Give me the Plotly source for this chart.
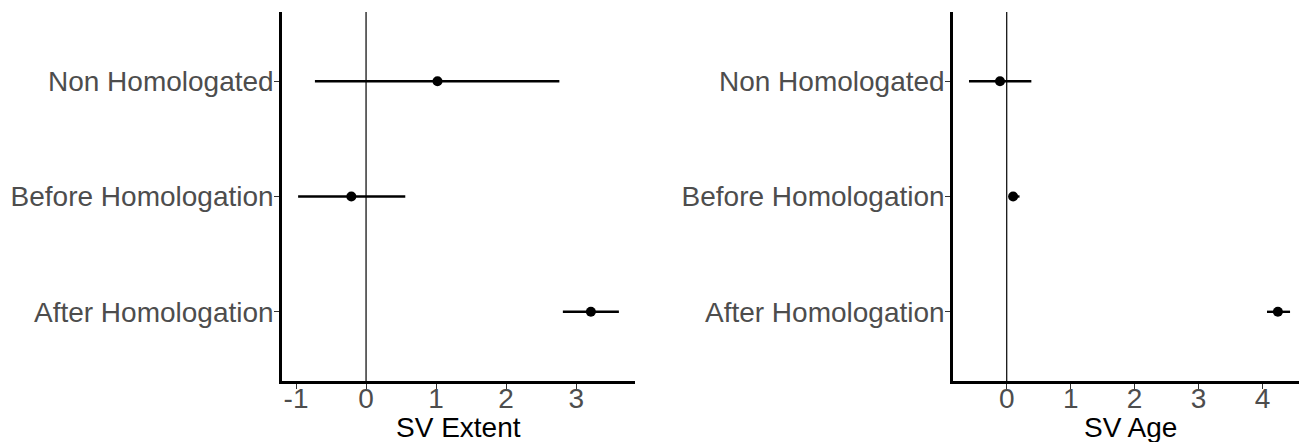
import plotly.graph_objects as go

categories = ["After Homologation", "Before Homologation", "Non Homologated"]

extent_est = [3.21, -0.21, 1.02]
extent_lo = [2.81, -0.97, -0.73]
extent_hi = [3.61, 0.56, 2.76]

age_est = [4.24, 0.10, -0.105]
age_lo = [4.07, 0.036, -0.59]
age_hi = [4.43, 0.20, 0.385]

x_ticks = [-1, 0, 1, 2, 3, 4]
x_ticktext = ["-1", "0", "1", "2", "3", "4"]

W, H = 1299, 442

fig = go.Figure()

def add_panel(est, lo, hi, xa, ya):
    fig.add_trace(go.Scatter(
        x=est, y=categories, mode="markers",
        marker=dict(color="black", size=10),
        error_x=dict(type="data", symmetric=False,
                     array=[h - e for h, e in zip(hi, est)],
                     arrayminus=[e - l for e, l in zip(est, lo)],
                     color="black", thickness=2.4, width=0),
        xaxis=xa, yaxis=ya, showlegend=False, cliponaxis=False))

add_panel(extent_est, extent_lo, extent_hi, "x", "y")
add_panel(age_est, age_lo, age_hi, "x2", "y2")

font = "Liberation Sans, Arial, sans-serif"
tickfont = dict(family=font, size=28, color="#4D4D4D")

def px_x(p):
    return p / W

def px_y(p):
    return (H - p) / H

ydom = [px_y(381), px_y(12)]

common_x = dict(showline=True, linecolor="black", linewidth=2.5, ticks="outside",
                ticklen=5, tickwidth=1, tickcolor="#333333", tickfont=tickfont,
                showgrid=False, zeroline=False, tickvals=x_ticks, ticktext=x_ticktext,
                tickmode="array", ticklabelstandoff=-14)
common_y = dict(showline=True, linecolor="black", linewidth=2.5, ticks="outside",
                ticklen=5, tickwidth=1, tickcolor="#333333", tickfont=tickfont,
                showgrid=False, zeroline=False, type="category",
                categoryorder="array", categoryarray=categories,
                range=[-0.6, 2.6], domain=ydom, ticklabelstandoff=-5)

fig.update_layout(
    width=W, height=H,
    margin=dict(l=0, r=0, t=0, b=0),
    paper_bgcolor="white", plot_bgcolor="white",
    xaxis=dict(domain=[px_x(282), px_x(635)], range=[-1.2, 3.84], anchor="y", **common_x),
    yaxis=dict(anchor="x", **common_y),
    xaxis2=dict(domain=[px_x(953), 1.0], range=[-0.84, 4.57], anchor="y2", **common_x),
    yaxis2=dict(anchor="x2", **common_y),
)

for xr, yr in [("x", "y domain"), ("x2", "y2 domain")]:
    fig.add_shape(type="line", xref=xr, yref=yr, x0=0, x1=0, y0=0, y1=1,
                  line=dict(color="black", width=1.2), layer="below")

titles = [("SV Extent", 458.5), ("SV Age", 1130)]
for t, cx in titles:
    fig.add_annotation(text=t, x=px_x(cx), y=px_y(410), xref="paper", yref="paper",
                       xanchor="center", yanchor="top", showarrow=False,
                       font=dict(family=font, size=28, color="black"))

fig.write_html("out.html")
